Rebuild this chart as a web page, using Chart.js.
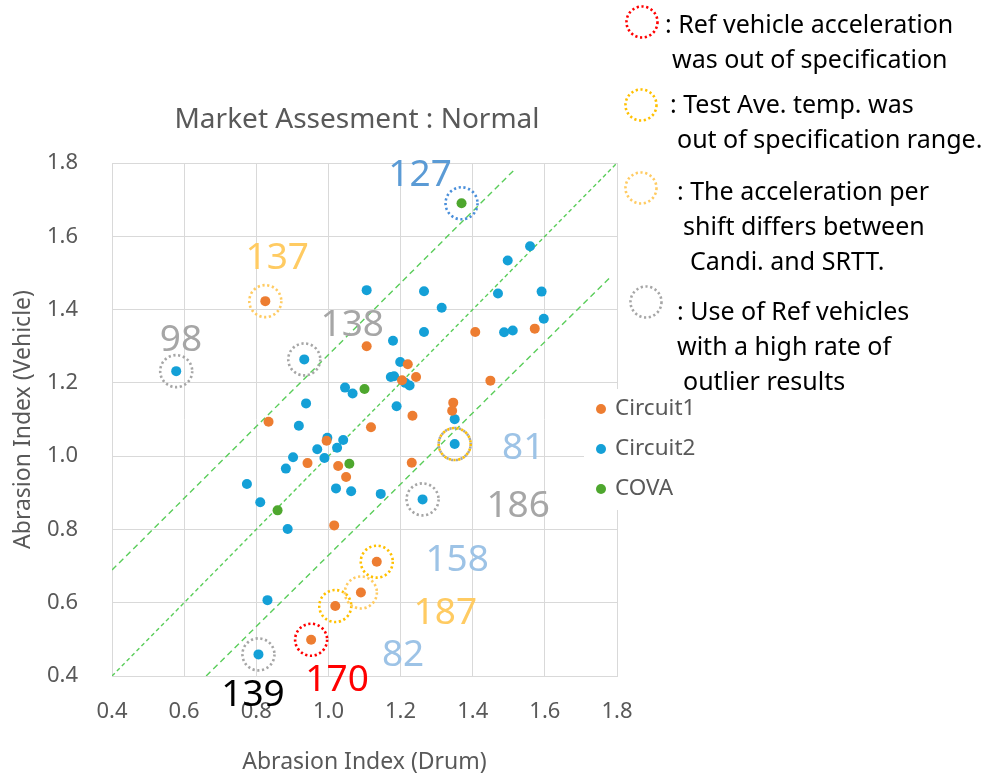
<!DOCTYPE html>
<html>
<head>
<meta charset="utf-8">
<script src="https://cdn.jsdelivr.net/npm/chart.js@4.4.0/dist/chart.umd.min.js"></script>
<style>
  html, body { margin: 0; padding: 0; background: #fff; }
</style>
</head>
<body>
<canvas id="chart" width="989" height="777"></canvas>
<script>
//Datos
const circuit1X = [0.825, 1.106, 0.834, 1.407, 1.572, 1.220, 1.243, 1.204, 1.449, 1.346, 1.343, 1.233,
  0.995, 0.942, 1.027, 1.049, 1.016, 1.090, 1.019, 0.952, 1.118, 1.231, 1.134];
const circuit1Y = [1.423, 1.300, 1.094, 1.339, 1.348, 1.251, 1.216, 1.207, 1.206, 1.146, 1.124, 1.110,
  1.042, 0.981, 0.973, 0.943, 0.811, 0.628, 0.591, 0.499, 1.079, 0.982, 0.712];

const circuit2X = [0.578, 1.106, 0.933, 1.046, 1.067, 0.938, 1.559, 1.497, 1.265, 1.591, 1.314, 1.470,
  1.597, 1.487, 1.511, 1.265, 1.179, 1.199, 1.173, 1.182, 1.213, 1.225, 1.189, 1.350, 0.918, 0.997,
  1.041, 0.969, 1.024, 0.902, 0.989, 0.882, 1.021, 1.063, 0.774, 0.811, 0.887, 0.831, 0.806, 1.350,
  1.145, 1.261];
const circuit2Y = [1.232, 1.453, 1.264, 1.187, 1.171, 1.144, 1.573, 1.534, 1.450, 1.449, 1.405, 1.444,
  1.375, 1.338, 1.343, 1.339, 1.315, 1.257, 1.216, 1.218, 1.200, 1.193, 1.136, 1.101, 1.083, 1.050,
  1.044, 1.019, 1.023, 0.997, 0.995, 0.966, 0.912, 0.904, 0.924, 0.874, 0.801, 0.607, 0.459, 1.033,
  0.897, 0.882];

const covaX = [1.369, 1.100, 1.058, 0.859];
const covaY = [1.690, 1.183, 0.979, 0.852];

//Lineas guia (extremos)
const midLineX = [0.4, 1.8];
const midLineY = [0.4, 1.8];
const upLineX = [0.4, 1.52];
const upLineY = [0.689, 1.786];
const lowLineX = [0.661, 1.78];
const lowLineY = [0.40, 1.487];

const xTicks = [0.4, 0.6, 0.8, 1.0, 1.2, 1.4, 1.6, 1.8];
const yTicks = [0.4, 0.6, 0.8, 1.0, 1.2, 1.4, 1.6, 1.8];

//Circulos punteados y numeros
const markX = [0.952, 1.019, 1.134, 1.350, 0.825, 1.090, 0.578, 0.933, 1.350, 1.261, 0.806, 1.369];
const markY = [0.499, 0.591, 0.712, 1.033, 1.423, 0.628, 1.232, 1.264, 1.033, 0.882, 0.459, 1.690];
const markKind = ['red', 'gold', 'gold', 'gold', 'light', 'light', 'gray', 'gray', 'gray', 'gray', 'gray', 'blue'];

const labelText = ['127', '137', '98', '138', '81', '186', '158', '187', '82', '170', '139'];
const labelX = [1.254, 0.858, 0.591, 1.066, 1.540, 1.526, 1.357, 1.324, 1.207, 1.024, 0.791];
const labelY = [1.767, 1.540, 1.316, 1.357, 1.020, 0.864, 0.716, 0.571, 0.456, 0.388, 0.346];
const labelKind = ['blueT', 'light', 'gray', 'gray', 'paleBlue', 'gray', 'paleBlue', 'light', 'paleBlue', 'red', 'black'];

const colores = {
  red: '#FF0000', gold: '#FFC000', light: '#FFCB62', gray: '#A6A6A6', blue: '#4A8FDA',
  blueT: '#5B9BD5', paleBlue: '#9DC3E6', black: '#000000'
};

const FONT = "'Noto Sans', sans-serif";
const TXT = '#595959';

function toPts(xs, ys) {
  return xs.map((x, i) => ({ x: x, y: ys[i] }));
}

function dottedCircle(ctx, x, y, r, color, offset) {
  ctx.save();
  ctx.beginPath();
  ctx.setLineDash([2.2, 2.6]);
  ctx.lineDashOffset = offset || 0;
  ctx.lineWidth = 2.6;
  ctx.strokeStyle = color;
  ctx.arc(x, y, r, 0, Math.PI * 2);
  ctx.stroke();
  ctx.restore();
}

//Plugin para circulos, numeros, leyenda y notas
const extras = {
  id: 'extras',
  afterDatasetsDraw(chart) {
    const ctx = chart.ctx;
    const sx = chart.scales.x, sy = chart.scales.y;
    markX.forEach((mx, i) => {
      dottedCircle(ctx, sx.getPixelForValue(mx), sy.getPixelForValue(markY[i]), 16, colores[markKind[i]], i === 8 ? 2.4 : 0);
    });
    ctx.save();
    ctx.font = '37px ' + FONT;
    ctx.textAlign = 'center';
    ctx.textBaseline = 'middle';
    labelText.forEach((t, i) => {
      ctx.fillStyle = colores[labelKind[i]];
      ctx.fillText(t, sx.getPixelForValue(labelX[i]), sy.getPixelForValue(labelY[i]));
    });
    ctx.restore();
  },
  afterDraw(chart) {
    const ctx = chart.ctx;
    ctx.save();
    //Titulo
    ctx.fillStyle = TXT;
    ctx.font = '28px ' + FONT;
    ctx.textAlign = 'center';
    ctx.textBaseline = 'middle';
    ctx.fillText('Market Assesment : Normal', 357, 120, 370);

    //Leyenda
    ctx.fillStyle = '#fff';
    ctx.fillRect(584, 389, 115, 121);
    const leg = [['Circuit1', '#ED7D31', 409], ['Circuit2', '#14A0D7', 449], ['COVA', '#4EA72E', 489]];
    ctx.font = '22.5px ' + FONT;
    ctx.textAlign = 'left';
    leg.forEach(l => {
      ctx.fillStyle = l[1];
      ctx.beginPath();
      ctx.arc(601, l[2], 5, 0, Math.PI * 2);
      ctx.fill();
      ctx.fillStyle = TXT;
      ctx.fillText(l[0], 615, l[2]);
    });

    //Notas
    const notes = [
      [': Ref vehicle acceleration', 665, 33, 297],
      ['was out of specification', 672, 68, 280],
      [': Test Ave. temp. was', 670, 113, 252],
      ['out of specification range.', 677, 148, 306],
      [': The acceleration per', 677, 200, 256],
      ['shift differs between', 683, 235, 245],
      ['Candi. and SRTT.', 690, 270, 195],
      [': Use of Ref vehicles', 677, 320, 236],
      ['with a high rate of', 677, 355, 216],
      ['outlier results', 683, 390, 164]
    ];
    ctx.fillStyle = '#000';
    ctx.font = '25px ' + FONT;
    ctx.textBaseline = 'alphabetic';
    notes.forEach(n => ctx.fillText(n[0], n[1], n[2], n[3]));
    ctx.restore();
    dottedCircle(ctx, 642, 22, 15.5, colores.red);
    dottedCircle(ctx, 641, 105, 15.5, colores.gold);
    dottedCircle(ctx, 641, 188, 15.5, colores.light);
    dottedCircle(ctx, 646, 302, 15.5, colores.gray);
  }
};

const ctx = document.getElementById('chart').getContext('2d');
const chart = new Chart(ctx, {
  type: 'scatter',
  data: {
    datasets: [
      { label: 'Circuit1', data: toPts(circuit1X, circuit1Y), backgroundColor: '#ED7D31', borderWidth: 0, pointRadius: 5 },
      { label: 'Circuit2', data: toPts(circuit2X, circuit2Y), backgroundColor: '#14A0D7', borderWidth: 0, pointRadius: 5 },
      { label: 'COVA', data: toPts(covaX, covaY), backgroundColor: '#4EA72E', borderWidth: 0, pointRadius: 5 },
      { label: 'mid', data: toPts(midLineX, midLineY), showLine: true, pointRadius: 0, borderColor: '#5ACD5A', borderWidth: 1.4, borderDash: [4, 3] },
      { label: 'up', data: toPts(upLineX, upLineY), showLine: true, pointRadius: 0, borderColor: '#5ACD5A', borderWidth: 1.4, borderDash: [6, 4] },
      { label: 'low', data: toPts(lowLineX, lowLineY), showLine: true, pointRadius: 0, borderColor: '#5ACD5A', borderWidth: 1.4, borderDash: [6, 4] }
    ]
  },
  options: {
    responsive: false,
    animation: false,
    layout: { padding: { top: 163, right: 372, left: 0, bottom: 0 } },
    plugins: { legend: { display: false }, tooltip: { enabled: false } },
    scales: {
      x: {
        type: 'linear', min: 0.4, max: 1.8,
        afterBuildTicks: s => { s.ticks = xTicks.map(v => ({ value: v })); },
        afterFit: s => { s.height = 101; },
        ticks: { callback: v => v.toFixed(1), color: TXT, font: { family: FONT, size: 22 }, padding: 23 },
        grid: { color: '#D9D9D9', drawTicks: false },
        border: { color: '#D9D9D9' },
        title: { display: true, text: 'Abrasion Index (Drum)', color: TXT, font: { family: FONT, size: 23 }, padding: { top: 0, bottom: 1 } }
      },
      y: {
        type: 'linear', min: 0.4, max: 1.8,
        afterBuildTicks: s => { s.ticks = yTicks.map(v => ({ value: v })); },
        afterFit: s => { s.width = 112; },
        ticks: { callback: v => v.toFixed(1), color: TXT, font: { family: FONT, size: 22 }, padding: 34 },
        grid: { color: '#D9D9D9', drawTicks: false },
        border: { color: '#D9D9D9' },
        title: { display: true, text: 'Abrasion Index (Vehicle)', color: TXT, font: { family: FONT, size: 23 }, padding: { top: 10, bottom: 0 } }
      }
    }
  },
  plugins: [extras]
});
</script>
</body>
</html>
